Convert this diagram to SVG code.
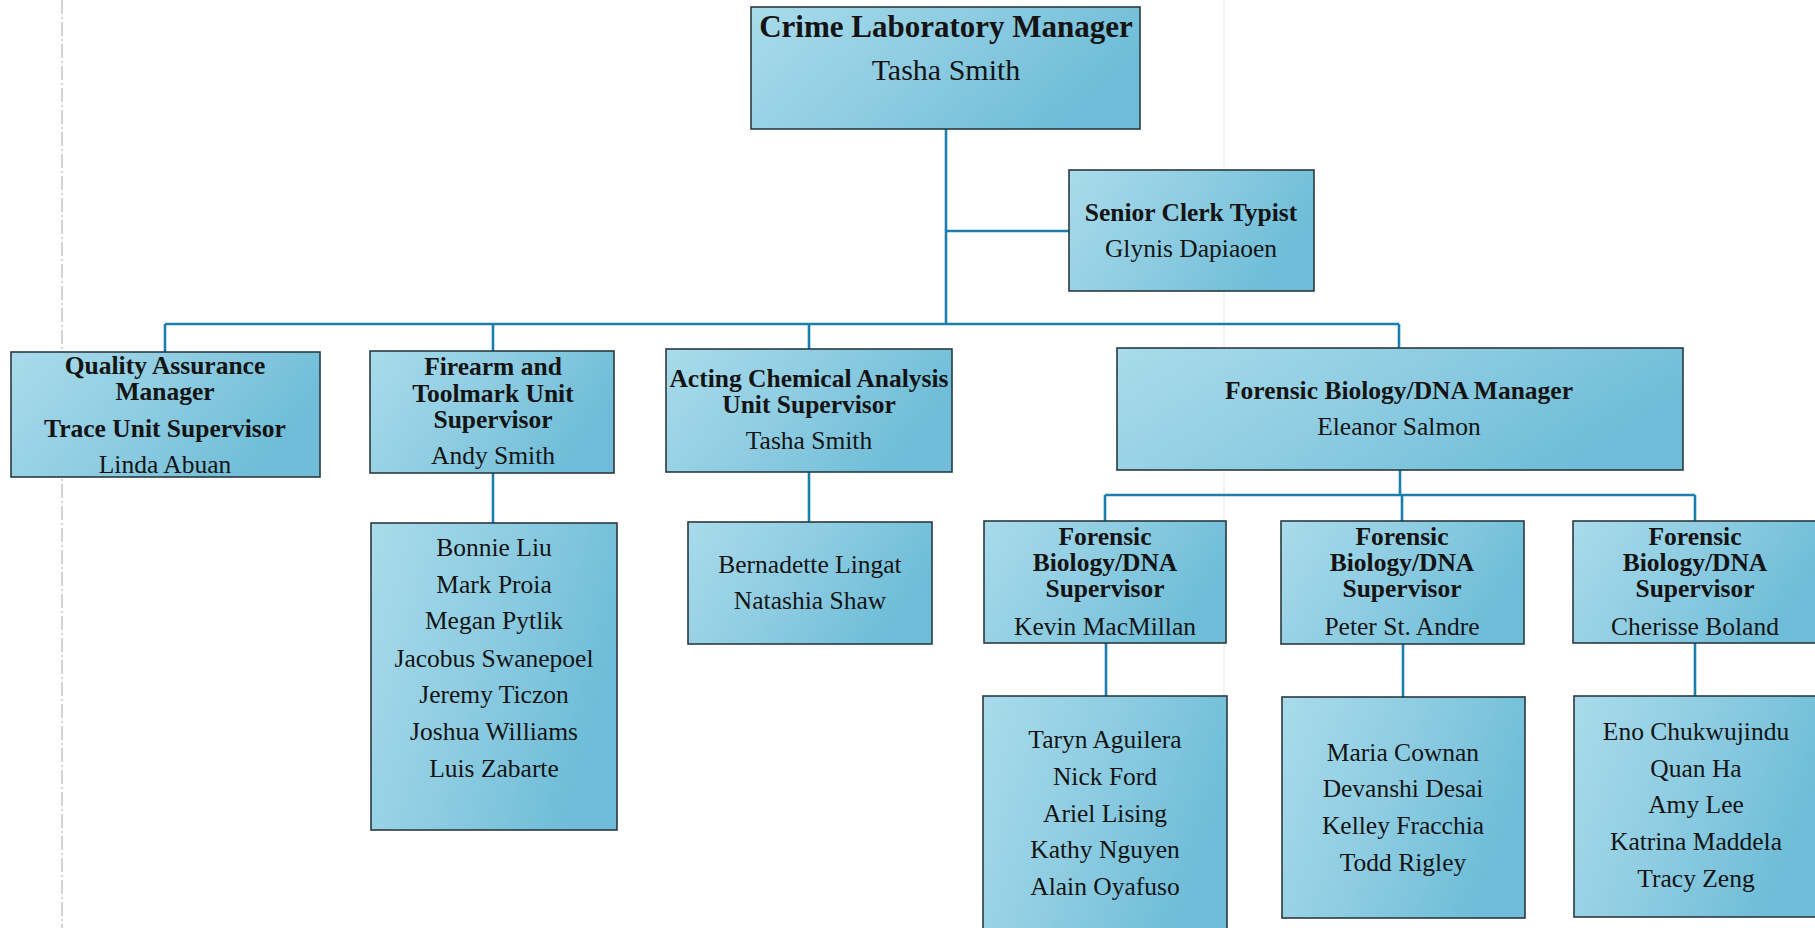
<svg xmlns="http://www.w3.org/2000/svg" width="1815" height="928" viewBox="0 0 1815 928">
<style>
.box{fill:url(#g);stroke:#2a3a40;stroke-width:1.6}
.t{font-family:"Liberation Serif","Times New Roman",serif;fill:#141414;text-anchor:middle}
.b{font-weight:bold;font-size:25.5px}
.r{font-size:25.5px}
.c{stroke:#1b7fae;stroke-width:2.6;fill:none}
.art{stroke:#9a9a9a;fill:none}
</style>
<defs>
<linearGradient id="g" x1="0" y1="0" x2="1" y2="0.35">
<stop offset="0" stop-color="#a9dbeb"/>
<stop offset="0.5" stop-color="#8fcde2"/>
<stop offset="1" stop-color="#6fbdd8"/>
</linearGradient>
</defs>
<rect width="1815" height="928" fill="#ffffff"/>
<g id="artifacts">
<line class="art" x1="62" y1="0" x2="62" y2="928" stroke-width="1.2" stroke-dasharray="14 3 2 3" opacity="0.7"/>
<line class="art" x1="1224" y1="0" x2="1224" y2="928" stroke-width="1" opacity="0.25"/>
</g>
<g id="connectors">
<path class="c" d="M946 129V324M946 231H1069M165 324H1399M165 324V352M493 324V351M809 324V349M1399 324V348M493 473V523M809 472V522M1400 470V495M1105 495H1695M1105 495V521M1402 495V521M1695 495V521M1106 643V696M1403 644V697M1695 643V696"/>
</g>
<g id="n-lab-manager">
<rect class="box" x="751" y="7" width="389" height="122"/>
<text class="t" x="946" y="37" font-weight="bold" font-size="31">Crime Laboratory Manager</text>
<text class="t" x="946" y="80" font-size="30">Tasha Smith</text>
</g>
<g id="n-clerk">
<rect class="box" x="1069" y="170" width="245" height="121"/>
<text class="t b" x="1191" y="221">Senior Clerk Typist</text>
<text class="t r" x="1191" y="257">Glynis Dapiaoen</text>
</g>
<g id="n-qa">
<rect class="box" x="11" y="352" width="309" height="125"/>
<text class="t b" x="165" y="374">Quality Assurance</text>
<text class="t b" x="165" y="400">Manager</text>
<text class="t b" x="165" y="437">Trace Unit Supervisor</text>
<text class="t r" x="165" y="473">Linda Abuan</text>
</g>
<g id="n-firearm">
<rect class="box" x="370" y="351" width="244" height="122"/>
<text class="t b" x="493" y="375">Firearm and</text>
<text class="t b" x="493" y="402">Toolmark Unit</text>
<text class="t b" x="493" y="428">Supervisor</text>
<text class="t r" x="493" y="464">Andy Smith</text>
</g>
<g id="n-chem">
<rect class="box" x="666" y="349" width="286" height="123"/>
<text class="t b" x="809" y="387">Acting Chemical Analysis</text>
<text class="t b" x="809" y="413">Unit Supervisor</text>
<text class="t r" x="809" y="449">Tasha Smith</text>
</g>
<g id="n-fb-manager">
<rect class="box" x="1117" y="348" width="566" height="122"/>
<text class="t b" x="1399" y="399">Forensic Biology/DNA Manager</text>
<text class="t r" x="1399" y="435">Eleanor Salmon</text>
</g>
<g id="n-firearm-staff">
<rect class="box" x="371" y="523" width="246" height="307"/>
<text class="t r" x="494" y="556">Bonnie Liu</text>
<text class="t r" x="494" y="593">Mark Proia</text>
<text class="t r" x="494" y="629">Megan Pytlik</text>
<text class="t r" x="494" y="667">Jacobus Swanepoel</text>
<text class="t r" x="494" y="703">Jeremy Ticzon</text>
<text class="t r" x="494" y="740">Joshua Williams</text>
<text class="t r" x="494" y="777">Luis Zabarte</text>
</g>
<g id="n-chem-staff">
<rect class="box" x="688" y="522" width="244" height="122"/>
<text class="t r" x="810" y="573">Bernadette Lingat</text>
<text class="t r" x="810" y="609">Natashia Shaw</text>
</g>
<g id="n-sup-kevin">
<rect class="box" x="984" y="521" width="242" height="122"/>
<text class="t b" x="1105" y="545">Forensic</text>
<text class="t b" x="1105" y="571">Biology/DNA</text>
<text class="t b" x="1105" y="597">Supervisor</text>
<text class="t r" x="1105" y="635">Kevin MacMillan</text>
</g>
<g id="n-sup-peter">
<rect class="box" x="1281" y="521" width="243" height="123"/>
<text class="t b" x="1402" y="545">Forensic</text>
<text class="t b" x="1402" y="571">Biology/DNA</text>
<text class="t b" x="1402" y="597">Supervisor</text>
<text class="t r" x="1402" y="635">Peter St. Andre</text>
</g>
<g id="n-sup-cherisse">
<rect class="box" x="1573" y="521" width="246" height="122"/>
<text class="t b" x="1695" y="545">Forensic</text>
<text class="t b" x="1695" y="571">Biology/DNA</text>
<text class="t b" x="1695" y="597">Supervisor</text>
<text class="t r" x="1695" y="635">Cherisse Boland</text>
</g>
<g id="n-kevin-staff">
<rect class="box" x="983" y="696" width="244" height="240"/>
<text class="t r" x="1105" y="748">Taryn Aguilera</text>
<text class="t r" x="1105" y="785">Nick Ford</text>
<text class="t r" x="1105" y="822">Ariel Lising</text>
<text class="t r" x="1105" y="858">Kathy Nguyen</text>
<text class="t r" x="1105" y="895">Alain Oyafuso</text>
</g>
<g id="n-peter-staff">
<rect class="box" x="1282" y="697" width="243" height="221"/>
<text class="t r" x="1403" y="761">Maria Cownan</text>
<text class="t r" x="1403" y="797">Devanshi Desai</text>
<text class="t r" x="1403" y="834">Kelley Fracchia</text>
<text class="t r" x="1403" y="871">Todd Rigley</text>
</g>
<g id="n-cherisse-staff">
<rect class="box" x="1574" y="696" width="245" height="221"/>
<text class="t r" x="1696" y="740">Eno Chukwujindu</text>
<text class="t r" x="1696" y="777">Quan Ha</text>
<text class="t r" x="1696" y="813">Amy Lee</text>
<text class="t r" x="1696" y="850">Katrina Maddela</text>
<text class="t r" x="1696" y="887">Tracy Zeng</text>
</g>
</svg>
